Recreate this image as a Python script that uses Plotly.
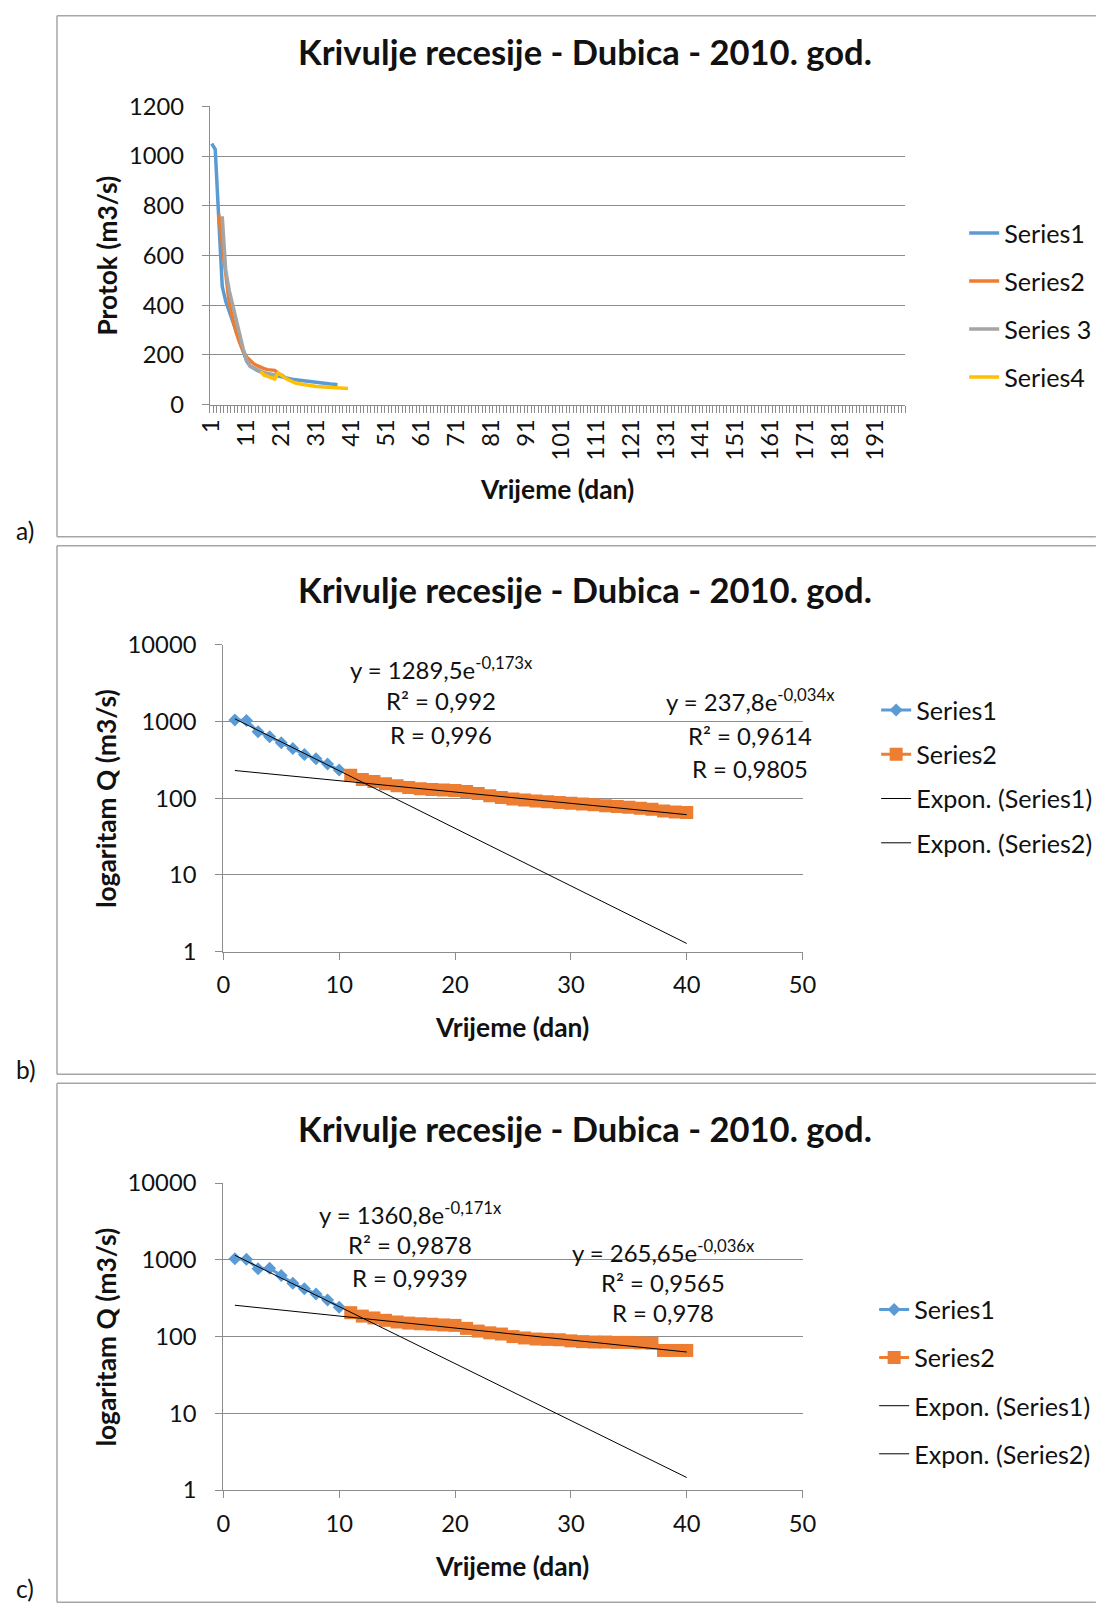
import numpy as np
import plotly.graph_objects as go

W, H = 1105, 1616
FONT = "Lato"
TXT = "#111111"
GRID = "#8c8c8c"
BLUE, ORANGE, GRAY, YELLOW = "#5B9BD5", "#ED7D31", "#A5A5A5", "#FFC000"

TITLE = "Krivulje recesije - Dubica - 2010. god."

# ---------------- panel a data ----------------
a_categories = list(range(1, 200))
a_xtick_labels = list(range(1, 200, 10))
a_yticks = [0, 200, 400, 600, 800, 1000, 1200]
a_names = ["Series1", "Series2", "Series 3", "Series4"]
a_starts = [1, 3, 4, 15]
a_s1 = [1050, 1027, 750, 476, 416, 375, 333, 292, 250, 209, 175, 155, 145, 138, 132,
        128, 124, 120, 117, 115, 112, 108, 105, 102, 100, 98, 96, 94, 93, 91, 90, 88,
        86, 84, 83, 82, 80]
a_s2 = [765, 640, 515, 410, 345, 290, 250, 215, 192, 176, 165, 157, 150, 145, 141,
        140, 138, 128]
a_s3 = [758, 540, 460, 400, 335, 280, 225, 180, 155, 148, 140, 135, 128, 124, 121,
        120, 125, 120, 110]
a_s4 = [134, 118, 114, 107, 103, 128, 117, 107, 100, 93, 87, 84, 81, 79, 77, 75, 73,
        72, 71, 70, 69, 68, 67, 66, 65, 65]

# ---------------- panel b data ----------------
b_s1_days = list(range(1, 11))
b_s1 = [1047, 1030, 736, 633, 528, 447, 373, 327, 279, 233]
b_s2_days = list(range(11, 41))
b_s2 = [200, 175, 165, 155, 145, 138, 133, 130, 128, 126, 122, 115, 108, 102, 98,
        95, 92, 90, 88, 86, 84, 82, 80, 78, 76, 74, 72, 68, 66, 65]
b_fit1 = [1289.5, -0.173]
b_fit2 = [237.8, -0.034]
b_eq1 = ["y = 1289,5e<sup>-0,173x</sup>", "R² = 0,992", "R = 0,996"]
b_eq2 = ["y = 237,8e<sup>-0,034x</sup>", "R² = 0,9614", "R = 0,9805"]

# ---------------- panel c data ----------------
c_s1_days = list(range(1, 11))
c_s1 = [1032, 1020, 764, 778, 625, 496, 419, 360, 301, 241]
c_s2_days = list(range(11, 41))
c_s2 = [205, 185, 175, 163, 155, 150, 147, 145, 142, 140, 128, 118, 112, 108, 100,
        96, 93, 92, 91, 88, 86, 85, 85, 84, 84, 83, 82, 66, 66, 66]
c_fit1 = [1360.8, -0.171]
c_fit2 = [265.65, -0.036]
c_eq1 = ["y = 1360,8e<sup>-0,171x</sup>", "R² = 0,9878", "R = 0,9939"]
c_eq2 = ["y = 265,65e<sup>-0,036x</sup>", "R² = 0,9565", "R = 0,978"]

log_ticks = [1, 10, 100, 1000, 10000]
lin_xticks = [0, 10, 20, 30, 40, 50]
trend_days = list(range(1, 41))

# The photographed page shows a small white border round the page and is scaled
# to fit; layout targets are given in picture pixels and mapped back to page pixels.
SX, OX = 0.9745, 14.4
SY, OY = 0.9817, 16.0
FS = 2.0 / (SX + SY)


def tx(x):
    return x / SX - OX


def ty(y):
    return y / SY - OY


def px(x):
    return tx(x) / W


def py(y):
    return 1 - ty(y) / H


def f(s):
    return round(s * FS, 2)


fig = go.Figure()

# ---- panel a traces ----
for name, start, vals, col in zip(a_names, a_starts, [a_s1, a_s2, a_s3, a_s4],
                                  [BLUE, ORANGE, GRAY, YELLOW]):
    fig.add_trace(go.Scatter(
        x=list(range(start, start + len(vals))), y=vals, mode="lines", name=name,
        line=dict(color=col, width=3.5), xaxis="x", yaxis="y",
        legend="legend", legendgroup="a" + name, showlegend=True))


def log_panel(xa, ya, leg, s1d, s1, s2d, s2, f1, f2):
    fig.add_trace(go.Scatter(
        x=s1d, y=s1, mode="lines+markers", name="Series1",
        line=dict(color=BLUE, width=3),
        marker=dict(symbol="diamond", size=10, color=BLUE),
        xaxis=xa, yaxis=ya, legend=leg, legendgroup=leg + "1"))
    fig.add_trace(go.Scatter(
        x=s2d, y=s2, mode="lines+markers", name="Series2",
        line=dict(color=ORANGE, width=3),
        marker=dict(symbol="square", size=13, color=ORANGE),
        xaxis=xa, yaxis=ya, legend=leg, legendgroup=leg + "2"))
    td = np.array(trend_days, dtype=float)
    fig.add_trace(go.Scatter(
        x=td, y=f1[0] * np.exp(f1[1] * td), mode="lines", name="Expon. (Series1)",
        line=dict(color="black", width=1), xaxis=xa, yaxis=ya, legend=leg,
        legendgroup=leg + "3"))
    fig.add_trace(go.Scatter(
        x=td, y=f2[0] * np.exp(f2[1] * td), mode="lines", name="Expon. (Series2)",
        line=dict(color="black", width=1), xaxis=xa, yaxis=ya, legend=leg,
        legendgroup=leg + "4"))


log_panel("x2", "y2", "legend2", b_s1_days, b_s1, b_s2_days, b_s2, b_fit1, b_fit2)
log_panel("x3", "y3", "legend3", c_s1_days, c_s1, c_s2_days, c_s2, c_fit1, c_fit2)

tickfont = dict(family=FONT, size=f(23.2), color=TXT)

common_axis = dict(showline=True, linecolor=GRID, linewidth=1.3, zeroline=False,
                   tickfont=tickfont, tickcolor=GRID, fixedrange=True)

layout = dict(
    width=W, height=H, margin=dict(l=0, r=0, t=0, b=0),
    paper_bgcolor="white", plot_bgcolor="white",
    font=dict(family=FONT, size=f(24), color=TXT),
    showlegend=True,
    xaxis=dict(domain=[px(210), px(905)], range=[0.5, len(a_categories) + 0.5],
               tickmode="array", tickvals=a_xtick_labels,
               ticktext=[str(v) for v in a_xtick_labels], tickangle=-90,
               ticks="", showgrid=False, anchor="y", ticklabelstandoff=4,
               minor=dict(tickmode="linear", tick0=0.5, dtick=1, ticks="outside",
                          ticklen=7, tickcolor=GRID, showgrid=False),
               **common_axis),
    yaxis=dict(domain=[py(405), py(107)], range=[0, 1200], tickmode="array",
               tickvals=a_yticks, ticks="outside", ticklen=7, showgrid=True,
               gridcolor=GRID, gridwidth=1.3, anchor="x", ticklabelstandoff=13,
               **common_axis),
)

for i, (top, bot) in enumerate([(645, 951.3), (1182.7, 1489.3)]):
    n = str(i + 2)
    layout["xaxis" + n] = dict(domain=[px(223.3), px(802.5)], range=[0, 50],
                               tickmode="array", tickvals=lin_xticks, ticks="outside",
                               ticklen=7, showgrid=False, anchor="y" + n,
                               ticklabelstandoff=5, **common_axis)
    layout["yaxis" + n] = dict(domain=[py(bot), py(top)], type="log", range=[0, 4],
                               tickmode="array", tickvals=log_ticks,
                               ticktext=[str(v) for v in log_ticks], ticks="outside",
                               ticklen=7, showgrid=True, gridcolor=GRID, gridwidth=1.3,
                               anchor="x" + n, ticklabelstandoff=14, **common_axis)

legend_common = dict(font=dict(family=FONT, size=f(24.6), color=TXT),
                     bgcolor="rgba(0,0,0,0)", xanchor="left", yanchor="middle",
                     itemclick=False, itemdoubleclick=False, traceorder="grouped")
layout["legend"] = dict(x=(tx(1004) - 41) / W, y=py(306.5) + 1 / H, tracegroupgap=12.3,
                        **legend_common)
layout["legend2"] = dict(x=(tx(916) - 41) / W, y=py(777.5) + 1 / H, tracegroupgap=8.6,
                         **legend_common)
layout["legend3"] = dict(x=(tx(914) - 41) / W, y=py(1382) + 1 / H, tracegroupgap=12.4,
                         **legend_common)

fig.update_layout(**layout)

ann = []


def text(x, y, s, size=24, bold=False, angle=0, xanchor="center", xpage=None, ypage=None):
    xp = xpage / W if xpage is not None else px(x)
    yp = 1 - ypage / H if ypage is not None else py(y)
    ann.append(dict(x=xp, y=yp, xref="paper", yref="paper", text=s,
                    showarrow=False, textangle=angle, xanchor=xanchor, yanchor="middle",
                    font=dict(family=FONT, size=f(size), color=TXT,
                              weight=700 if bold else 400)))


# titles
for tyy in (52, 590, 1128):
    text(585, tyy, TITLE, size=33.8, bold=True)
# axis titles
text(107, 256, "Protok (m3/s)", size=25.8, bold=True, angle=-90)
text(557, 489, "Vrijeme (dan)", size=25.8, bold=True)
text(106, 798, "logaritam Q (m3/s)", size=25.8, bold=True, angle=-90)
text(512, 1027, "Vrijeme (dan)", size=25.8, bold=True)
text(106, 1336, "logaritam Q (m3/s)", size=25.8, bold=True, angle=-90)
text(512, 1565, "Vrijeme (dan)", size=25.8, bold=True)
# equations
for eq, xc, ys in [(b_eq1, 441, (668, 701, 734)), (b_eq2, 750, (700, 735, 768)),
                   (c_eq1, 410, (1213, 1244, 1277)), (c_eq2, 663, (1250, 1282, 1312))]:
    for line, yy in zip(eq, ys):
        text(xc, yy, line, size=23.4)
# panel labels (kept inside the page)
text(None, 531, "a)", size=24, xanchor="left", xpage=max(tx(9), 0.5))
text(None, 1069, "b)", size=24, xanchor="left", xpage=max(tx(9), 0.5))
text(None, None, "c)", size=24, xanchor="left", xpage=max(tx(9), 0.5),
     ypage=min(ty(1606), H - 15))

fig.update_layout(annotations=ann)

# panel frames (right edge lies beyond the page)
shapes = []


def clampy(v):
    return min(max(ty(v), 0.75), H - 0.75)


for top, bot in [(8, 537), (546, 1074), (1083, 1612)]:
    y0p, y1p = clampy(top), clampy(bot)
    xl = tx(57)
    for x0, ya, x1, yb in [(xl, y0p, W + 5, y0p), (xl, y1p, W + 5, y1p), (xl, y0p, xl, y1p)]:
        shapes.append(dict(type="line", xref="paper", yref="paper", x0=x0 / W,
                           y0=1 - ya / H, x1=x1 / W, y1=1 - yb / H,
                           line=dict(color="#a6a6a6", width=1.5)))
fig.update_layout(shapes=shapes)

fig.write_html(
    "out.html", config={"displayModeBar": False},
    post_script="document.body.style.margin='0';document.body.style.padding='0';"
                "document.documentElement.style.overflow='hidden';")
